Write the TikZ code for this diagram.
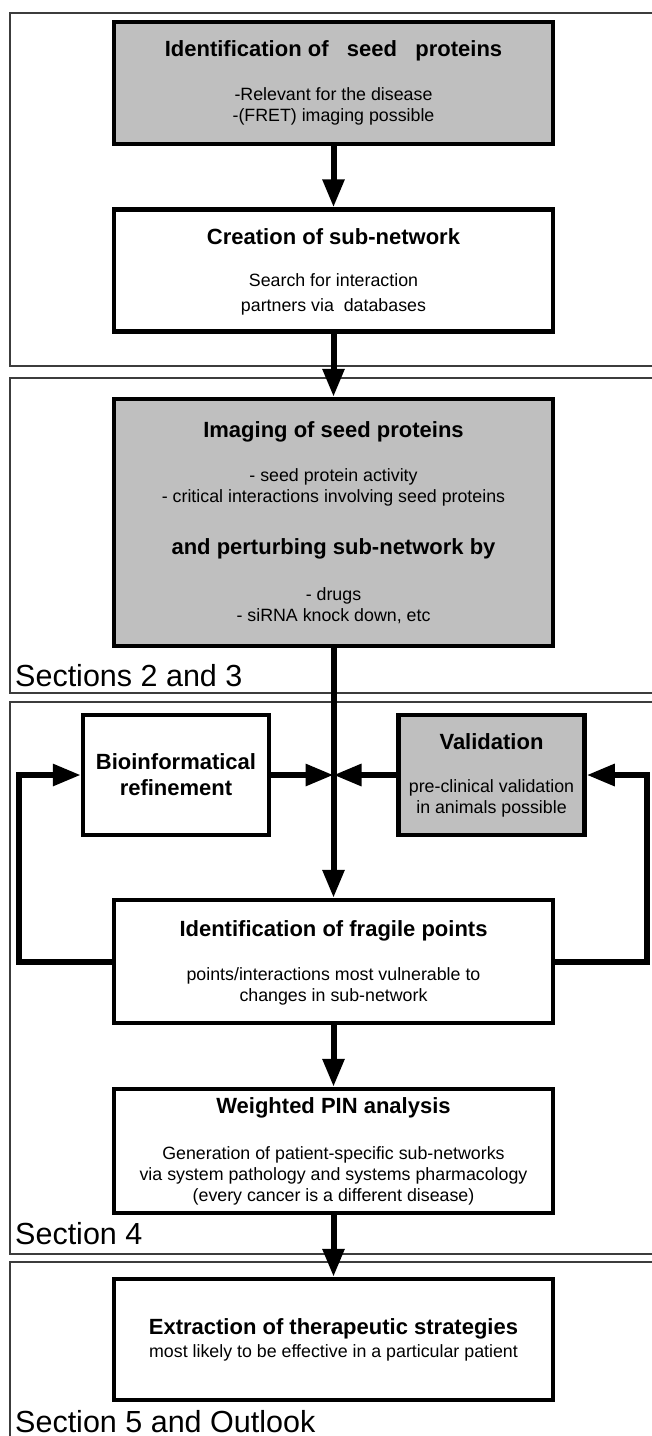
\documentclass[tikz,border=0pt]{standalone}
\usepackage{fontspec}
\setmainfont{Liberation Sans}
\usepackage{tikz}
\usetikzlibrary{arrows.meta}
\definecolor{boxgray}{RGB}{191,191,191}
\definecolor{framegray}{RGB}{60,60,60}

\begin{document}
\begin{tikzpicture}[x=1pt, y=-1pt,
  box/.style = {draw, line width=4.5pt, minimum width=439pt, minimum height=122pt, inner sep=0pt},
  grbox/.style = {box, fill=boxgray},
  smallbox/.style = {draw, line width=4.5pt, minimum width=186pt, minimum height=120pt, inner sep=0pt},
  ttl/.style = {font=\fontsize{22}{26}\selectfont\bfseries, align=center, inner sep=0pt},
  sub/.style = {font=\fontsize{17.8}{21}\selectfont, align=center, inner sep=0pt},
  sect/.style = {font=\fontsize{30.5}{34}\selectfont, anchor=base west, inner sep=0pt},
  arr/.style = {line width=6pt, -{Triangle[width=21pt, length=28pt]}},
  loop/.style = {arr, line join=miter}]
  \useasboundingbox (0,0) rectangle (652,1436);
  % section frames
  \begin{scope}[draw=framegray, line width=2pt]
    \draw (10,13) rectangle (670,366);
    \draw (10,378) rectangle (670,693);
    \draw (10,702) rectangle (670,1254);
    \draw (10,1262) rectangle (670,1450);
  \end{scope}
  \node[sect] (sec23) at (15,686) {Sections 2 and 3};
  \node[sect] (sec4) at (15,1244) {Section 4};
  \node[sect] (sec5) at (15,1432) {Section 5 and Outlook};

  % boxes
  \node[grbox] (seed) at (333.5,83) {};
  \node[box] (subnet) at (333.5,270.5) {};
  \node[grbox, minimum height=247pt] (imaging) at (333.5,522.5) {};
  \node[smallbox] (bio) at (176,775) {};
  \node[smallbox, fill=boxgray] (valid) at (491.5,775) {};
  \node[box, minimum height=123pt] (fragile) at (333.5,961.5) {};
  \node[box, minimum height=124pt] (pin) at (333.5,1151) {};
  \node[box, minimum height=121pt] (extract) at (333.5,1339.5) {};

  % texts
  \node[ttl] (seedT) at (333.5,51) {Identification of\ \ \ seed\ \ \ proteins};
  \node[sub] (seedS) at (333.5,106.5) {-Relevant for the disease\\-(FRET) imaging possible};
  \node[ttl] (subnetT) at (333.5,237) {Creation of sub-network};
  \node[sub] (subnetS) at (333.5,294.5) {Search for interaction\\[4pt]partners via\ \ databases};
  \node[ttl] (imagingT) at (333.5,432) {Imaging of seed proteins};
  \node[sub] (imagingS) at (333.5,487.5) {- seed protein activity\\- critical interactions involving seed proteins};
  \node[ttl] (perturbT) at (333.5,549) {and perturbing sub-network by};
  \node[sub] (perturbS) at (333.5,605.5) {- drugs\\- siRNA knock down, etc};
  \node[ttl] (bioT) at (176,775) {Bioinformatical\\refinement};
  \node[ttl] (validT) at (491.5,742) {Validation};
  \node[sub] (validS) at (491.5,798) {pre-clinical validation\\in animals possible};
  \node[ttl] (fragileT) at (333.5,931) {Identification of fragile points};
  \node[sub] (fragileS) at (333.5,986.5) {points/interactions most vulnerable to\\changes in sub-network};
  \node[ttl] (pinT) at (333.5,1108) {Weighted PIN analysis};
  \node[sub] (pinS) at (333.5,1175.5) {Generation of patient-specific sub-networks\\via system pathology and systems pharmacology\\(every cancer is a different disease)};
  \node[ttl] (extractT) at (333.5,1329) {Extraction of therapeutic strategies};
  \node[sub] (extractS) at (333.5,1353) {most likely to be effective in a particular patient};

  % connectors
  \coordinate (jn) at (bio.east -| imaging.south);
  \draw[arr] (seed) -- (subnet);
  \draw[arr] (subnet) -- (imaging);
  \draw[arr] (imaging) -- (fragile);
  \draw[arr] (bio.east) -- (jn);
  \draw[arr] (valid.west) -- (jn);
  \draw[loop] (fragile.west) -- ++(-93,0) |- (bio.west);
  \draw[loop] (fragile.east) -- ++(92,0) |- (valid.east);
  \draw[arr] (fragile) -- (pin);
  \draw[arr] (pin) -- (extract);
\end{tikzpicture}
\end{document}
